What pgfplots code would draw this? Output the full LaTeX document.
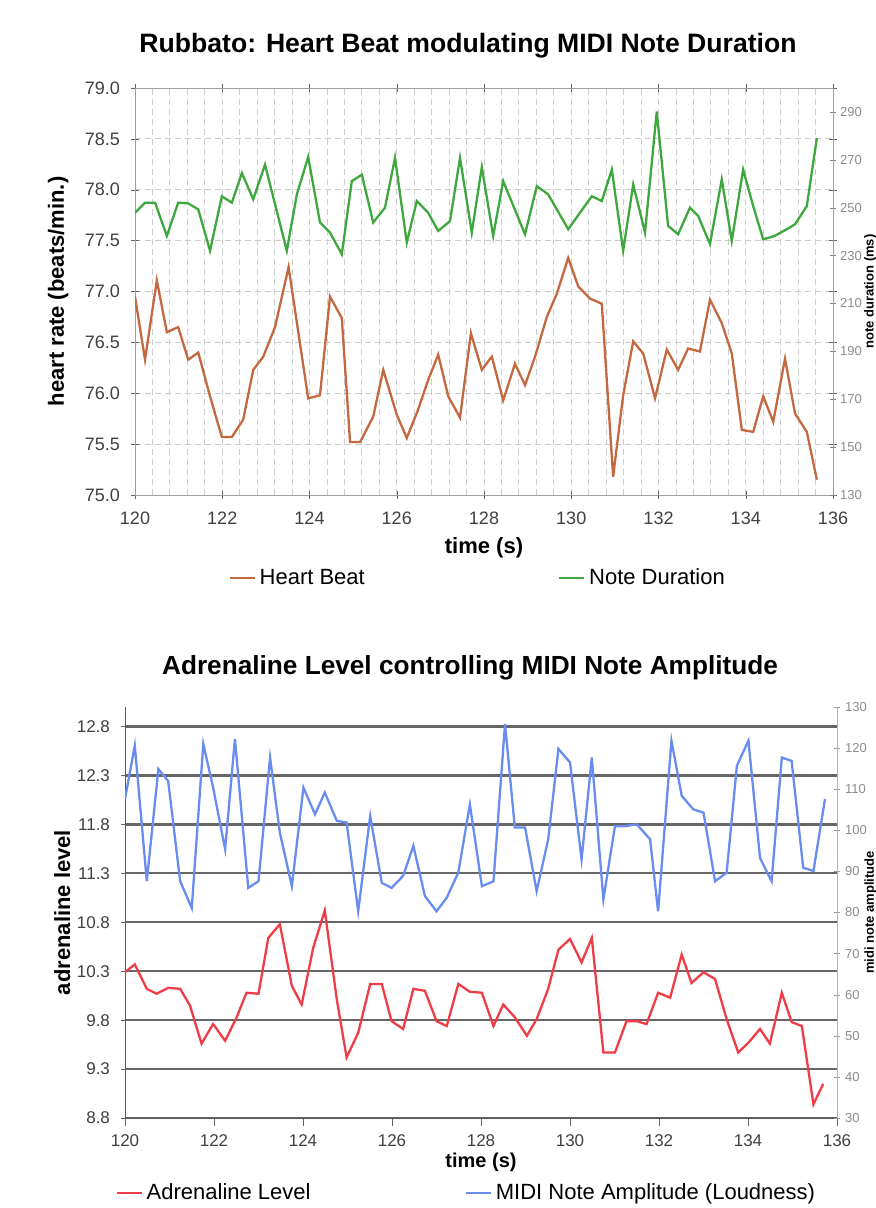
\documentclass[border=0pt]{standalone}
\usepackage{pgfplots}
\pgfplotsset{compat=1.18}
\usepackage{fontspec}
\setmainfont{Liberation Sans}
\definecolor{hb}{RGB}{196,104,64}
\definecolor{nd}{RGB}{62,168,62}
\definecolor{ad}{RGB}{240,60,70}
\definecolor{am}{RGB}{104,140,240}
\definecolor{tk}{RGB}{64,64,64}
\definecolor{tkr}{RGB}{140,140,140}

\pgfplotstableread{
t v
120.00 76.95
120.23 76.33
120.50 77.11
120.73 76.60
120.99 76.65
121.22 76.33
121.45 76.40
121.72 75.97
121.99 75.57
122.22 75.57
122.48 75.74
122.71 76.23
122.94 76.36
123.21 76.65
123.52 77.24
123.97 75.95
124.24 75.98
124.47 76.95
124.74 76.74
124.93 75.52
125.16 75.52
125.46 75.77
125.69 76.23
126.00 75.79
126.23 75.56
126.49 75.84
126.72 76.13
126.95 76.38
127.18 75.97
127.45 75.76
127.70 76.59
127.95 76.23
128.18 76.36
128.44 75.93
128.71 76.29
128.94 76.08
129.17 76.36
129.44 76.75
129.67 76.98
129.93 77.33
130.16 77.05
130.43 76.93
130.70 76.88
130.96 75.18
131.19 75.98
131.42 76.51
131.65 76.39
131.92 75.95
132.19 76.43
132.45 76.23
132.68 76.44
132.95 76.41
133.18 76.92
133.45 76.69
133.68 76.39
133.91 75.64
134.17 75.62
134.40 75.97
134.63 75.72
134.90 76.34
135.13 75.80
135.40 75.62
135.63 75.15
}\heart

\pgfplotstableread{
t v
120.00 247.9
120.23 252.1
120.46 252.1
120.73 238.2
120.99 252.1
121.22 251.8
121.45 249.3
121.72 232.0
121.99 254.8
122.22 252.1
122.45 264.5
122.71 253.5
122.98 268.0
123.48 232.0
123.71 255.6
123.97 271.2
124.24 243.8
124.47 239.6
124.74 230.6
124.97 261.1
125.20 263.8
125.46 243.8
125.73 250.0
125.96 270.8
126.23 235.5
126.46 252.8
126.72 247.9
126.95 240.3
127.22 244.4
127.45 270.8
127.72 239.6
127.95 267.0
128.21 238.2
128.44 261.1
128.94 238.9
129.21 259.0
129.47 255.6
129.93 241.0
130.20 247.9
130.47 254.8
130.70 252.8
130.93 265.9
131.19 232.0
131.42 259.7
131.69 239.6
131.96 290.2
132.22 242.4
132.45 238.9
132.72 250.0
132.91 246.5
133.18 234.8
133.45 261.8
133.68 236.1
133.94 265.9
134.17 250.7
134.40 236.8
134.66 238.2
134.94 241.0
135.13 243.1
135.40 250.7
135.63 279.1
}\duration

\pgfplotstableread{
t v
120.00 10.29
120.22 10.37
120.49 10.12
120.71 10.07
120.97 10.13
121.24 10.12
121.46 9.95
121.72 9.56
121.98 9.76
122.25 9.59
122.51 9.83
122.73 10.08
123.00 10.07
123.22 10.64
123.48 10.78
123.75 10.15
123.97 9.96
124.23 10.54
124.49 10.92
124.76 10.01
124.98 9.42
125.24 9.67
125.51 10.17
125.77 10.17
125.99 9.79
126.25 9.71
126.48 10.12
126.74 10.10
127.00 9.79
127.23 9.74
127.49 10.17
127.75 10.09
128.02 10.08
128.28 9.74
128.50 9.96
128.76 9.83
129.03 9.64
129.25 9.81
129.51 10.12
129.74 10.52
130.00 10.63
130.26 10.39
130.49 10.64
130.75 9.47
131.01 9.47
131.27 9.79
131.50 9.79
131.72 9.76
131.98 10.08
132.25 10.03
132.51 10.47
132.73 10.18
133.00 10.29
133.26 10.22
133.52 9.81
133.78 9.47
134.01 9.57
134.27 9.71
134.49 9.56
134.76 10.08
134.98 9.78
135.21 9.74
135.47 8.94
135.69 9.15
}\adren

\pgfplotstableread{
t v
120.00 107.6
120.22 120.6
120.49 87.6
120.75 114.9
120.97 112.0
121.24 87.6
121.50 81.1
121.76 121.0
121.98 110.4
122.25 95.4
122.47 122.2
122.77 86.0
123.00 87.6
123.26 117.7
123.48 99.4
123.75 86.4
124.01 110.4
124.27 103.9
124.49 109.2
124.76 102.3
124.98 101.9
125.24 80.3
125.51 103.5
125.77 87.2
125.99 86.0
126.25 88.9
126.48 96.2
126.74 84.0
127.00 80.3
127.23 83.6
127.49 89.7
127.75 106.3
128.02 86.4
128.28 87.6
128.54 125.9
128.76 100.7
128.99 100.7
129.25 85.2
129.51 97.8
129.74 119.8
130.00 116.5
130.26 92.9
130.49 117.7
130.75 83.2
131.01 101.0
131.24 101.0
131.50 101.5
131.80 97.8
131.98 80.3
132.28 121.8
132.51 108.4
132.77 105.1
133.00 104.3
133.26 87.6
133.52 89.7
133.75 115.7
134.01 121.8
134.27 93.3
134.53 87.6
134.76 117.7
134.98 116.9
135.24 90.9
135.47 90.1
135.73 107.6
}\amp

\pgfplotsset{
  base/.style={
    scale only axis, xmin=120, xmax=136,
    /pgf/number format/assume math mode=true,
    tick label style={font=\fontsize{9}{10}\selectfont, text=tk},
    label style={font=\fontsize{11}{13}\selectfont\bfseries},
    legend image code/.code={\draw[##1] (0pt,0pt) -- (12.5pt,0pt);},
  },
}

\begin{document}
\begin{tikzpicture}
\useasboundingbox (0pt,0pt) rectangle (438pt,-604pt);

% ---------------- top chart ----------------
\node[font=\fontsize{13.3}{16}\selectfont\bfseries] at (234pt,-23pt) {Rubbato: Heart Beat modulating MIDI Note Duration};

\begin{axis}[base,
  at={(67.5pt,-247.5pt)}, anchor=south west,
  width=349pt, height=203.5pt,
  ymin=75, ymax=79,
  xtick={120,122,...,136},
  ytick={75,75.5,...,79},
  minor x tick num=4,
  xmajorgrids, xminorgrids, ymajorgrids,
  major grid style={densely dashed, gray!40, line width=0.45pt},
  minor grid style={densely dashed, gray!40, line width=0.45pt},
  axis line style={gray!75},
  tick align=center, major tick length=4pt, minor tick length=0pt,
  tick style={black!60},
  yticklabel style={/pgf/number format/fixed, /pgf/number format/fixed zerofill, /pgf/number format/precision=1},
  xticklabel style={yshift=-3pt},
  yticklabel style={xshift=-2pt},
  xlabel={time (s)},
  xlabel style={at={(axis description cs:0.5,-0.130)}, anchor=center},
  ylabel={heart rate (beats/min.)},
  ylabel style={at={(axis description cs:-0.110,0.5)}, anchor=center},
]
\addplot[hb, line width=1.15pt] table[x=t, y=v] {\heart};
\end{axis}

\begin{axis}[base,
  at={(67.5pt,-247.5pt)}, anchor=south west,
  width=349pt, height=203.5pt,
  ymin=130, ymax=300,
  axis y line*=right, axis x line=none,
  ytick={130,150,...,290},
  axis line style={gray!75, -},
  tick align=center, major tick length=3pt,
  tick style={black!50},
  yticklabel style={font=\fontsize{6.5}{8}\selectfont, text=tkr, xshift=-1.5pt},
  ylabel={note duration (ms)},
  ylabel style={at={(axis description cs:1.0535,0.5)}, anchor=center, font=\fontsize{6.5}{8}\selectfont\bfseries},
  legend style={draw=none, fill=none, at={(axis description cs:0.1332,-0.2039)}, anchor=west,
    font=\fontsize{11}{13}\selectfont, inner sep=0pt,
    /tikz/every even column/.append style={column sep=94.5pt}},
  legend columns=2,
]
\addlegendimage{hb, line width=1.15pt}
\addlegendentry{Heart Beat}
\addplot[nd, line width=1.15pt] table[x=t, y=v] {\duration};
\addlegendentry{Note Duration}
\end{axis}

% ---------------- bottom chart ----------------
\node[font=\fontsize{13.1}{16}\selectfont\bfseries] at (235pt,-334pt) {Adrenaline Level controlling MIDI Note Amplitude};

\begin{axis}[base,
  at={(62.5pt,-559pt)}, anchor=south west,
  width=356pt, height=205.5pt,
  ymin=8.8, ymax=13.0,
  axis x line*=bottom, axis y line*=left,
  axis line style={black!65, -},
  xtick={120,122,...,136},
  ytick={8.8,9.3,...,12.8},
  ymajorgrids,
  major grid style={black!60, line width=1.1pt},
  xtick align=outside, ytick align=center, major tick length=4pt,
  tick style={black!60},
  tick label style={font=\fontsize{8.5}{10}\selectfont},
  yticklabel style={/pgf/number format/fixed, /pgf/number format/fixed zerofill, /pgf/number format/precision=1, xshift=-2pt},
  xticklabel style={yshift=-1pt},
  xlabel={time (s)},
  xlabel style={at={(axis description cs:0.5,-0.109)}, anchor=center, font=\fontsize{10}{12}\selectfont\bfseries},
  ylabel={adrenaline level},
  ylabel style={at={(axis description cs:-0.088,0.5)}, anchor=center},
]
\addplot[ad, line width=1.15pt] table[x=t, y=v] {\adren};
\end{axis}

\begin{axis}[base,
  at={(62.5pt,-559pt)}, anchor=south west,
  width=356pt, height=205.5pt,
  ymin=30, ymax=130,
  axis y line*=right, axis x line=none,
  ytick={30,40,...,130},
  axis line style={gray!60, -},
  tick align=center, major tick length=3pt,
  tick style={black!40},
  yticklabel style={font=\fontsize{6.5}{8}\selectfont, text=tkr, xshift=-1pt},
  ylabel={midi note amplitude},
  ylabel style={at={(axis description cs:1.0470,0.5)}, anchor=center, font=\fontsize{6.5}{8}\selectfont\bfseries},
  legend style={draw=none, fill=none, at={(axis description cs:-0.014,-0.1825)}, anchor=west,
    font=\fontsize{11}{13}\selectfont, inner sep=0pt,
    /tikz/every even column/.append style={column sep=75pt}},
  legend columns=2,
]
\addlegendimage{ad, line width=1.15pt}
\addlegendentry{Adrenaline Level}
\addplot[am, line width=1.15pt] table[x=t, y=v] {\amp};
\addlegendentry{MIDI Note Amplitude (Loudness)}
\end{axis}
\end{tikzpicture}
\end{document}
